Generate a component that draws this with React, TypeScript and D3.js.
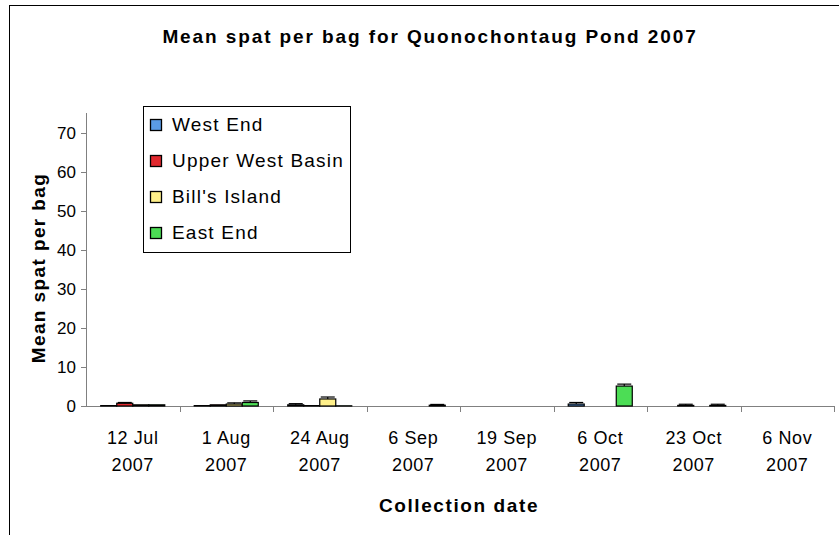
import React from 'react';
import * as d3 from 'd3';

const dates = ['12 Jul', '1 Aug', '24 Aug', '6 Sep', '19 Sep', '6 Oct', '23 Oct', '6 Nov'];
const years = ['2007', '2007', '2007', '2007', '2007', '2007', '2007', '2007'];
const seriesNames = ['West End', 'Upper West Basin', "Bill's Island", 'East End'];
const seriesColors = ['#5a9be6', '#e0282e', '#fff08a', '#4cdd55'];

const westEnd = [0.1, 0.1, 0.3, 0, 0, 0.5, 0, 0];
const upperWestBasin = [0.7, 0.3, 0.1, 0, 0, 0, 0.15, 0];
const billsIsland = [0.3, 0.5, 1.8, 0, 0, 0, 0, 0];
const eastEnd = [0.3, 0.9, 0.05, 0.2, 0, 5.1, 0.15, 0];

const westEndErr = [0, 0, 0.3, 0, 0, 0.4, 0, 0];
const upperWestBasinErr = [0.2, 0, 0, 0, 0, 0, 0.3, 0];
const billsIslandErr = [0, 0.3, 0.5, 0, 0, 0, 0, 0];
const eastEndErr = [0, 0.4, 0, 0.2, 0, 0.5, 0.3, 0];

const yTicks = [0, 10, 20, 30, 40, 50, 60, 70];

const values = [westEnd, upperWestBasin, billsIsland, eastEnd];
const errors = [westEndErr, upperWestBasinErr, billsIslandErr, eastEndErr];

export default function App() {
  const width = 839, height = 535;
  const left = 86, right = 834, top = 113, bottom = 406;
  const font = 'Liberation Sans, Arial, sans-serif';

  const x = d3.scaleBand<string>().domain(dates).range([left, right]).paddingInner(0).paddingOuter(0);
  const inner = d3.scaleBand<string>().domain(seriesNames).range([0, x.bandwidth()]).paddingInner(0).paddingOuter(0.92);
  const y = d3.scaleLinear().domain([0, 75]).range([bottom, top]);
  const bw = inner.bandwidth();

  return (
    <svg width={width} height={height} style={{ position: 'absolute', left: 0, top: 0, background: '#fff' }}>
      <rect x={9.5} y={5.5} width={900} height={700} fill="#fff" stroke="#000" strokeWidth={1} />
      <text x={430} y={43} textAnchor="middle" fontFamily={font} fontWeight="bold" fontSize={19} letterSpacing={1.9}>
        Mean spat per bag for Quonochontaug Pond 2007
      </text>

      {/* y axis */}
      <line x1={left + 0.5} x2={left + 0.5} y1={top} y2={bottom} stroke="#808080" />
      {yTicks.map(t => (
        <g key={t}>
          <line x1={left - 5} x2={left} y1={Math.round(y(t)) + 0.5} y2={Math.round(y(t)) + 0.5} stroke="#808080" />
          <text x={left - 10} y={y(t) + 6} textAnchor="end" fontFamily={font} fontSize={17}>{t}</text>
        </g>
      ))}

      {/* x axis */}
      <line x1={left} x2={right} y1={bottom + 0.5} y2={bottom + 0.5} stroke="#808080" />
      {dates.map((d, i) => (
        <g key={d}>
          <line x1={Math.round(x(d)! + x.bandwidth()) + 0.5} x2={Math.round(x(d)! + x.bandwidth()) + 0.5} y1={bottom} y2={bottom + 6} stroke="#808080" />
          <text x={x(d)! + x.bandwidth() / 2} y={444} textAnchor="middle" fontFamily={font} fontSize={18} letterSpacing={0.6}>{d}</text>
          <text x={x(d)! + x.bandwidth() / 2} y={471} textAnchor="middle" fontFamily={font} fontSize={18} letterSpacing={0.6}>{years[i]}</text>
        </g>
      ))}

      {/* bars */}
      {seriesNames.map((s, si) => (
        <g key={s}>
          {dates.map((d, di) => {
            const v = values[si][di];
            const bx = x(d)! + inner(s)!;
            const by = y(v);
            const e = errors[si][di];
            const cx = bx + bw / 2;
            return (
              <g key={d}>
                <rect x={bx} y={by} width={bw} height={Math.max(bottom - by, 0)} fill={seriesColors[si]} stroke="#000" strokeWidth={1.2} />
                {e > 0 && (
                  <g stroke="#000" strokeWidth={1.2}>
                    <line x1={cx} x2={cx} y1={by} y2={y(v + e)} />
                    <line x1={cx - 7} x2={cx + 7} y1={y(v + e)} y2={y(v + e)} />
                  </g>
                )}
              </g>
            );
          })}
        </g>
      ))}

      {/* legend */}
      <rect x={143.5} y={106.5} width={207} height={146} fill="#fff" stroke="#000" strokeWidth={1} />
      {seriesNames.map((s, i) => (
        <g key={s}>
          <rect x={150.5} y={119.5 + i * 36} width={11} height={11} fill={seriesColors[i]} stroke="#000" strokeWidth={1.3} />
          <text x={172} y={131 + i * 36} fontFamily={font} fontSize={19} letterSpacing={1.2}>{s}</text>
        </g>
      ))}

      <text x={459} y={512} textAnchor="middle" fontFamily={font} fontWeight="bold" fontSize={19} letterSpacing={1.6}>Collection date</text>
      <text transform={`translate(45,268) rotate(-90)`} textAnchor="middle" fontFamily={font} fontWeight="bold" fontSize={19} letterSpacing={1.4}>
        Mean spat per bag
      </text>
    </svg>
  );
}
